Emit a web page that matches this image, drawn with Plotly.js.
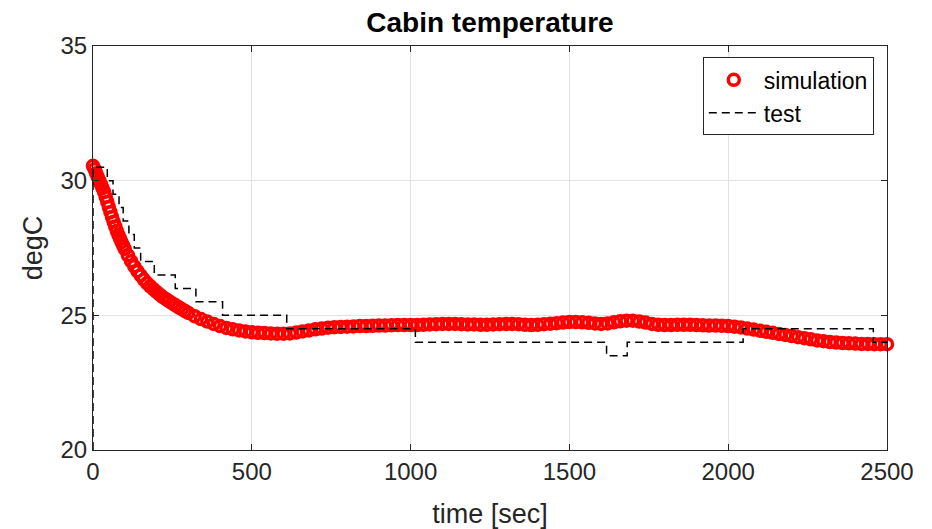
<!DOCTYPE html>
<html>
<head>
<meta charset="utf-8">
<script src="https://cdn.plot.ly/plotly-3.0.1.min.js"></script>
<style>html,body{margin:0;padding:0;background:#fff;}#chart{width:932px;height:529px;}</style>
</head>
<body>
<div id="chart"></div>
<script>
// Simulation (red open circles): time [s] and cabin temperature [degC]
const simTime = [
  0,5,10,15,20,25,30,35,40,45,50,55,60,65,70,75,80,85,90,95,100,
  110,120,130,140,150,160,170,180,190,200,210,220,230,240,250,260,270,280,290,300,
  320,340,360,380,400,420,440,460,480,500,520,540,560,580,600,620,640,660,680,700,
  720,740,760,780,800,820,840,860,880,900,920,940,960,980,1000,1020,1040,1060,1080,1100,
  1120,1140,1160,1180,1200,1220,1240,1260,1280,1300,1320,1340,1360,1380,1400,1420,1440,1460,1480,1500,
  1520,1540,1560,1580,1600,1620,1640,1660,1680,1700,1720,1740,1760,1780,1800,1820,1840,1860,1880,1900,
  1920,1940,1960,1980,2000,2020,2040,2060,2080,2100,2120,2140,2160,2180,2200,2220,2240,2260,2280,2300,
  2320,2340,2360,2380,2400,2420,2440,2460,2480,2500
];
const simTemp = [
  30.55,30.42,30.28,30.14,30.0,29.86,29.72,29.58,29.4,29.21,29.02,28.83,28.65,28.47,28.3,28.14,27.99,27.85,27.72,27.59,27.47,
  27.23,27.01,26.82,26.64,26.48,26.33,26.2,26.08,25.97,25.87,25.77,25.68,25.6,25.52,25.44,25.37,25.3,25.23,25.16,25.09,
  24.97,24.86,24.77,24.68,24.6,24.53,24.48,24.44,24.4,24.37,24.35,24.34,24.33,24.32,24.32,24.33,24.36,24.4,24.44,24.48,
  24.51,24.54,24.56,24.57,24.58,24.59,24.6,24.6,24.61,24.62,24.62,24.63,24.64,24.64,24.64,24.64,24.65,24.66,24.67,24.68,
  24.68,24.68,24.67,24.66,24.66,24.65,24.65,24.66,24.67,24.68,24.68,24.67,24.65,24.64,24.65,24.67,24.69,24.71,24.73,24.75,
  24.75,24.74,24.72,24.7,24.68,24.7,24.74,24.78,24.8,24.8,24.77,24.73,24.68,24.65,24.64,24.64,24.65,24.65,24.65,24.64,
  24.63,24.62,24.62,24.61,24.6,24.58,24.55,24.51,24.47,24.43,24.39,24.35,24.31,24.27,24.23,24.19,24.15,24.11,24.07,24.04,
  24.01,23.99,23.97,23.96,23.95,23.94,23.94,23.93,23.93,23.93
];

// Test (black dashed step line): step start times and levels
const testTime = [0, 0, 45, 63, 82, 95, 113, 130, 150, 193, 259, 324, 408, 610, 1015, 1617, 1682, 2047, 2457, 2500];
const testTemp = [20, 30.5, 30, 29.5, 29, 28.5, 28, 27.5, 27, 26.5, 26, 25.5, 25, 24.5, 24, 23.5, 24, 24.5, 24, 24];

// Axis ticks
const xTicks = [0, 500, 1000, 1500, 2000, 2500];
const yTicks = [20, 25, 30, 35];

const FONT = '"Liberation Sans", Arial, Helvetica, sans-serif';
const INK = '#262626';

const traces = [
  {
    x: simTime, y: simTemp, name: 'simulation', type: 'scatter', mode: 'markers',
    cliponaxis: false,
    marker: {symbol: 'circle-open', size: 11, color: '#ff0000', line: {width: 3.5, color: '#ff0000'}}
  },
  {
    x: testTime, y: testTemp, name: 'test', type: 'scatter', mode: 'lines',
    line: {color: '#000000', width: 1.5, dash: '8px,5px', shape: 'hv'}
  }
];

const axisCommon = {
  showline: true, mirror: 'ticks', linecolor: INK, linewidth: 1,
  ticks: 'inside', ticklen: 6, tickcolor: INK, tickwidth: 1,
  showgrid: true, gridcolor: '#e2e2e2', gridwidth: 1, zeroline: false,
  tickfont: {family: FONT, size: 24, color: INK}
};

const layout = {
  width: 932, height: 529,
  margin: {l: 93, r: 45, t: 46, b: 79},
  paper_bgcolor: '#ffffff', plot_bgcolor: '#ffffff',
  font: {family: FONT, color: INK},
  showlegend: true,
  title: {
    text: '<b>Cabin temperature</b>',
    font: {family: FONT, size: 28, color: '#000000'},
    x: 0.5, xref: 'paper', xanchor: 'center',
    y: 1 - 22 / 529, yref: 'container', yanchor: 'middle'
  },
  xaxis: Object.assign({}, axisCommon, {
    range: [0, 2500], tickmode: 'array', tickvals: xTicks, ticktext: xTicks.map(String),
    title: {text: 'time [sec]', font: {family: FONT, size: 27, color: INK}, standoff: 20}
  }),
  yaxis: Object.assign({}, axisCommon, {
    range: [20, 35], tickmode: 'array', tickvals: yTicks, ticktext: yTicks.map(String),
    title: {text: 'degC', font: {family: FONT, size: 27, color: INK}, standoff: 10}
  }),
  legend: {
    x: 0.768, y: 0.972, xanchor: 'left', yanchor: 'top',
    bgcolor: '#ffffff', bordercolor: INK, borderwidth: 1,
    font: {family: FONT, size: 23, color: '#000000'},
    itemwidth: 50,
    tracegroupgap: 0
  }
};

Plotly.newPlot('chart', traces, layout, {displayModeBar: false, staticPlot: true});
</script>
</body>
</html>
